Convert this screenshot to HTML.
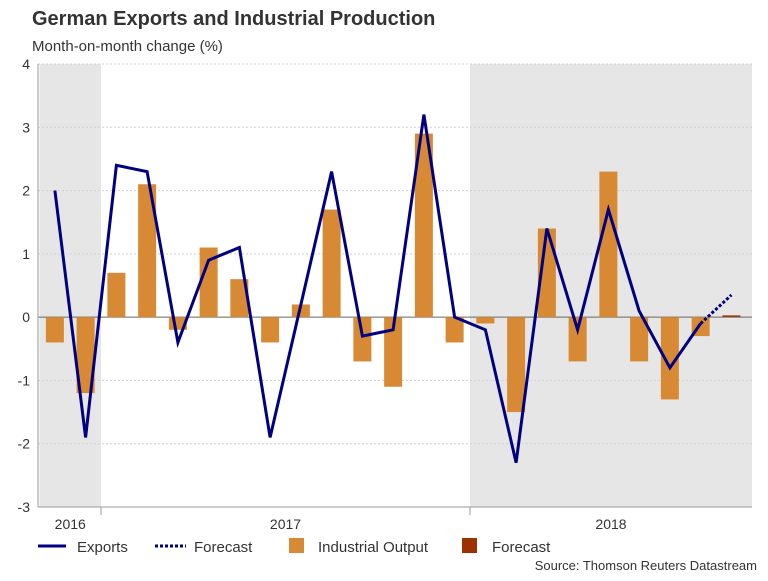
<!DOCTYPE html>
<html><head><meta charset="utf-8"><style>
body{margin:0;background:#fff;font-family:"Liberation Sans",Arial,sans-serif;}
svg text{font-family:"Liberation Sans",Arial,sans-serif;}
</style></head><body>
<svg id="c" width="768" height="576" viewBox="0 0 768 576" xmlns="http://www.w3.org/2000/svg">
<text x="32" y="25" font-size="20" font-weight="bold" fill="#333">German Exports and Industrial Production</text>
<text x="32" y="51" font-size="15" fill="#333">Month-on-month change (%)</text>
<g id="plot"></g>
<g>
<line x1="38" y1="546" x2="66" y2="546" stroke="#000080" stroke-width="3"/>
<text x="77" y="552" font-size="15" fill="#333">Exports</text>
<line x1="155" y1="546" x2="186" y2="546" stroke="#000080" stroke-width="3" stroke-dasharray="3,2"/>
<text x="194" y="552" font-size="15" fill="#333">Forecast</text>
<rect x="289" y="538" width="15" height="15" fill="#D78A33"/>
<text x="318" y="552" font-size="15" fill="#333">Industrial Output</text>
<rect x="462" y="538" width="15" height="15" fill="#9C3200"/>
<text x="492" y="552" font-size="15" fill="#333">Forecast</text>
</g>
<text x="757" y="570" font-size="13" fill="#333" text-anchor="end">Source: Thomson Reuters Datastream</text>
</svg>
<script>
const months = ["Nov16","Dec16","Jan17","Feb17","Mar17","Apr17","May17","Jun17","Jul17","Aug17","Sep17","Oct17","Nov17","Dec17","Jan18","Feb18","Mar18","Apr18","May18","Jun18","Jul18","Aug18","Sep18"];
const output = [-0.4,-1.2,0.7,2.1,-0.2,1.1,0.6,-0.4,0.2,1.7,-0.7,-1.1,2.9,-0.4,-0.1,-1.5,1.4,-0.7,2.3,-0.7,-1.3,-0.3,null];
const outputForecast = [null,null,null,null,null,null,null,null,null,null,null,null,null,null,null,null,null,null,null,null,null,null,0.02];
const exportsVals = [2.0,-1.9,2.4,2.3,-0.4,0.9,1.1,-1.9,0.2,2.3,-0.3,-0.2,3.2,0.0,-0.2,-2.3,1.4,-0.2,1.7,0.1,-0.8,-0.1,null];
const exportsForecast = [null,null,null,null,null,null,null,null,null,null,null,null,null,null,null,null,null,null,null,null,null,-0.1,0.35];
const yTicks = [-3,-2,-1,0,1,2,3,4];
const years = ["2016","2017","2018"];
const yearStart = [0,2,14];
const yearEnd = [2,14,24];

const L=38,R=752,T=64,B=507,MW=30.75,X0=101-2*MW;
const x = i => X0 + (i+0.5)*MW;
const edge = i => Math.max(L, Math.min(R, X0 + i*MW));
const y = v => T + (4-v)*(B-T)/7;
const NS="http://www.w3.org/2000/svg";
const g=document.getElementById('plot');
function mk(t,a){const e=document.createElementNS(NS,t);for(const k in a)e.setAttribute(k,a[k]);g.appendChild(e);return e;}
[0,2].forEach(k=>{
 const e=mk('rect',{x:edge(yearStart[k]),y:T,width:edge(yearEnd[k])-edge(yearStart[k]),height:B-T,fill:'#E6E6E6'});
 
 
});
yTicks.forEach(v=>{
 const ln=mk('line',{x1:L,x2:R,y1:y(v),y2:y(v),stroke:v===0?'#666':'#d0d0d0','stroke-width':1,'stroke-dasharray':v===0?'':'2,2'});
 
 
 const t=mk('text',{x:L-8,y:y(v)+5,'font-size':14,fill:'#333','text-anchor':'end'});
 t.textContent=v;
 
 
});
const ax=mk('line',{x1:L,x2:L,y1:T,y2:B,stroke:'#999'});


const bx=mk('line',{x1:L,x2:R,y1:B,y2:B,stroke:'#999'});


years.forEach((yr,k)=>{
 const t=mk('text',{x:(edge(yearStart[k])+edge(yearEnd[k]))/2,y:529,'font-size':14,fill:'#333','text-anchor':'middle'});
 t.textContent=yr;
 
 
 if(k>0){const tk=mk('line',{x1:edge(yearStart[k]),x2:edge(yearStart[k]),y1:B,y2:B+8,stroke:'#999'});
 
 }
});
const bw=18;
output.forEach((v,i)=>{ if(v===null)return;
 const b=mk('rect',{x:x(i)-bw/2,y:Math.min(y(v),y(0)),width:bw,height:Math.abs(y(v)-y(0)),fill:'#D78A33'});
 
 
});
outputForecast.forEach((v,i)=>{ if(v===null)return;
 const b=mk('rect',{x:x(i)-bw/2,y:Math.min(y(v),y(0))-0.5,width:bw,height:Math.max(1.5,Math.abs(y(v)-y(0))),fill:'#9C3200'});
 
 
});
function path(arr){let d='';arr.forEach((v,i)=>{if(v===null)return;d+=(d?'L':'M')+x(i).toFixed(1)+','+y(v).toFixed(1);});return d;}
const l1=mk('path',{d:path(exportsVals),fill:'none',stroke:'#000080','stroke-width':3,'stroke-linejoin':'miter'});


const l2=mk('path',{d:path(exportsForecast),fill:'none',stroke:'#000080','stroke-width':3,'stroke-dasharray':'3,2'});


</script>
</body></html>
